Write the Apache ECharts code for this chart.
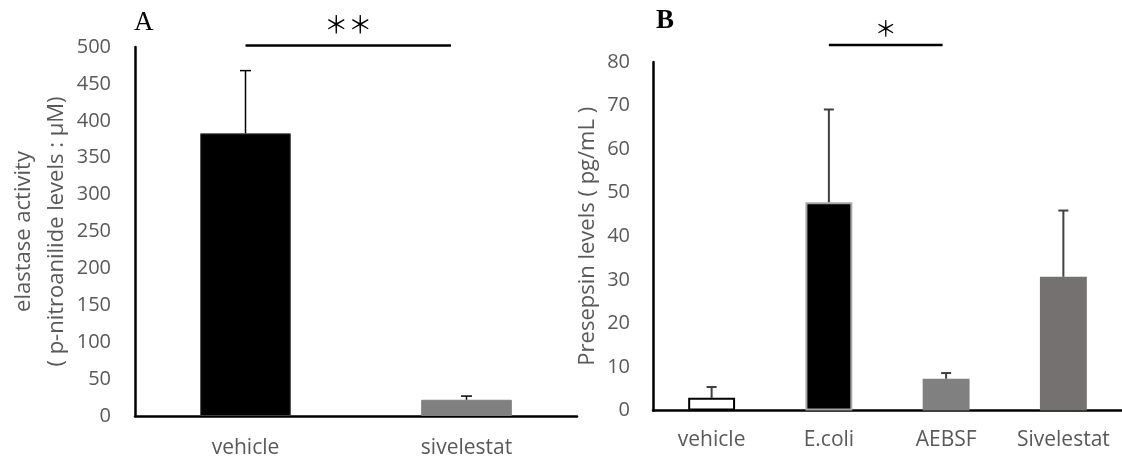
<!DOCTYPE html>
<html>
<head>
<meta charset="utf-8">
<script src="https://cdn.jsdelivr.net/npm/echarts@6/dist/echarts.min.js"></script>
<style>html,body{margin:0;padding:0;background:#fff;}#c{width:1122px;height:459px;}</style>
</head>
<body>
<div id="c"></div>
<script>
// Panel A data
const catA = ['vehicle', 'sivelestat'];
const valA = [383, 22];
const errA = [85, 5];
const colorA = ['#000000', '#808080'];
const yMaxA = 500, yStepA = 50;
const sigA_span = [0, 0.93];
const sigA_level = 502;
const sigA_mark = '＊＊';

// Panel B data
const catB = ['vehicle', 'E.coli', 'AEBSF', 'Sivelestat'];
const valB = [2.9, 47.8, 7.3, 30.7];
const errB = [2.5, 21.3, 1.3, 15.2];
const colorB = ['#ffffff', '#000000', '#808080', '#767171'];
const borderB = ['#000000', '#a6a6a6', '#808080', '#767171'];
const yMaxB = 80, yStepB = 10;
const sigB_span = [1, 1.97];
const sigB_level = 83.9;
const sigB_mark = '＊';

const FONT = '"Open Sans", sans-serif';
const GRAY = '#595959';

const chart = echarts.init(document.getElementById('c'), null, {renderer: 'canvas'});

function errRender(color, lw, cap) {
  return function (params, api) {
    const x = api.value(0), v = api.value(1), e = api.value(2);
    const b = api.coord([x, v]);
    const t = api.coord([x, v + e]);
    return {
      type: 'group',
      children: [
        {type: 'line', shape: {x1: b[0], y1: b[1], x2: t[0], y2: t[1]}, style: {stroke: color, lineWidth: lw}},
        {type: 'line', shape: {x1: t[0] - cap / 2, y1: t[1], x2: t[0] + cap / 2, y2: t[1]}, style: {stroke: color, lineWidth: lw}}
      ]
    };
  };
}

function sigRender(span, level, mark, fontSize, dy) {
  return function (params, api) {
    const p0 = api.coord([0, level]);
    const p1 = api.coord([1, level]);
    const step = p1[0] - p0[0];
    const x1 = p0[0] + step * span[0];
    const x2 = p0[0] + step * span[1];
    return {
      type: 'group',
      children: [
        {type: 'line', shape: {x1: x1, y1: p0[1], x2: x2, y2: p0[1]}, style: {stroke: '#000', lineWidth: 2.5}},
        {type: 'text', style: {text: mark, x: (x1 + x2) / 2, y: p0[1] - dy, align: 'center', verticalAlign: 'middle',
          fontSize: fontSize, fontFamily: '"Noto Sans CJK JP", serif', fill: '#000'}}
      ]
    };
  };
}

const axisLabel = {color: GRAY, fontSize: 20, fontFamily: FONT};

chart.setOption({
  animation: false,
  backgroundColor: '#fff',
  grid: [
    {left: 135, top: 47, width: 442, height: 369},
    {left: 653, top: 62, width: 469, height: 348.5}
  ],
  xAxis: [
    {type: 'category', gridIndex: 0, data: catA,
      axisLine: {lineStyle: {color: '#000', width: 2.5}}, axisTick: {show: false},
      axisLabel: Object.assign({margin: 22, interval: 0}, axisLabel, {fontSize: 21})},
    {type: 'category', gridIndex: 1, data: catB,
      axisLine: {lineStyle: {color: '#000', width: 2.5}}, axisTick: {show: false},
      axisLabel: Object.assign({margin: 19, interval: 0}, axisLabel, {fontSize: 21})}
  ],
  yAxis: [
    {type: 'value', gridIndex: 0, min: 0, max: yMaxA, interval: yStepA,
      axisLine: {show: true, lineStyle: {color: '#000', width: 2.5}}, axisTick: {show: false}, splitLine: {show: false},
      axisLabel: Object.assign({margin: 24}, axisLabel),
      name: 'elastase activity\n( p-nitroanilide levels : μM)', nameLocation: 'middle', nameGap: 62,
      nameTextStyle: {color: GRAY, fontSize: 22, fontFamily: FONT, lineHeight: 33}},
    {type: 'value', gridIndex: 1, min: 0, max: yMaxB, interval: yStepB,
      axisLine: {show: true, lineStyle: {color: '#000', width: 2.5}}, axisTick: {show: false}, splitLine: {show: false},
      axisLabel: Object.assign({margin: 23}, axisLabel),
      name: 'Presepsin levels ( pg/mL )', nameLocation: 'middle', nameGap: 54,
      nameTextStyle: {color: GRAY, fontSize: 22, fontFamily: FONT}}
  ],
  series: [
    {type: 'bar', xAxisIndex: 0, yAxisIndex: 0, barWidth: '41%',
      data: valA.map((v, i) => ({value: v, itemStyle: {color: colorA[i], borderColor: i === 0 ? '#404040' : colorA[i], borderWidth: 1}}))},
    {type: 'custom', xAxisIndex: 0, yAxisIndex: 0, clip: false, z: 5,
      renderItem: errRender('#000', 1.5, 11),
      encode: {x: 0, y: 1},
      data: catA.map((c, i) => [i, valA[i], errA[i]])},
    {type: 'custom', xAxisIndex: 0, yAxisIndex: 0, clip: false, z: 5,
      renderItem: sigRender(sigA_span, sigA_level, sigA_mark, 24, 22),
      encode: {x: 0, y: 1},
      data: [[0, sigA_level]]},
    {type: 'bar', xAxisIndex: 1, yAxisIndex: 1, barWidth: '40%',
      data: valB.map((v, i) => ({value: v, itemStyle: {color: colorB[i], borderColor: borderB[i], borderWidth: i < 2 ? 2 : 0}}))},
    {type: 'custom', xAxisIndex: 1, yAxisIndex: 1, clip: false, z: 5,
      renderItem: errRender('#404040', 2, 10),
      encode: {x: 0, y: 1},
      data: catB.map((c, i) => [i, valB[i], errB[i]])},
    {type: 'custom', xAxisIndex: 1, yAxisIndex: 1, clip: false, z: 5,
      renderItem: sigRender(sigB_span, sigB_level, sigB_mark, 22, 17),
      encode: {x: 0, y: 1},
      data: [[1, sigB_level]]}
  ],
  graphic: [
    {type: 'text', left: 134, top: 9, style: {text: 'A', fontSize: 27, fontFamily: '"Liberation Serif", serif', fill: '#000'}},
    {type: 'text', left: 656, top: 8, style: {text: 'B', fontSize: 27, fontWeight: 'bold', fontFamily: '"Liberation Serif", serif', fill: '#000'}}
  ]
});
</script>
</body>
</html>
